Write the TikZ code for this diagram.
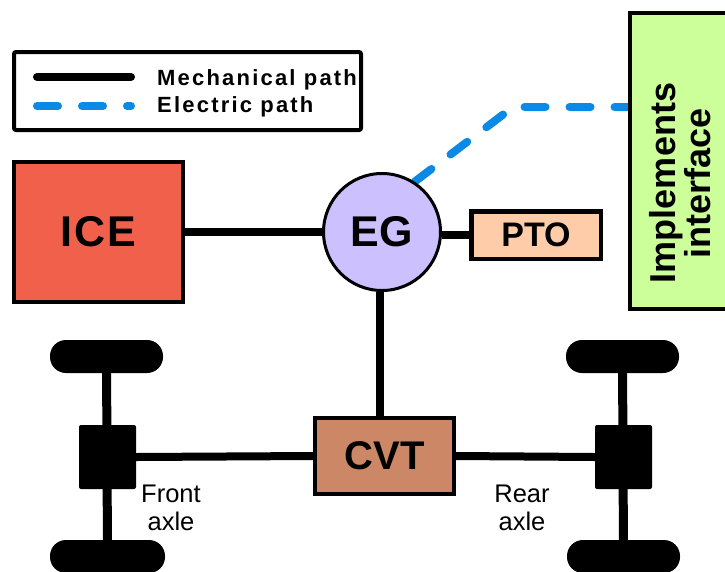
\documentclass[tikz,border=0pt]{standalone}
\usepackage{fontspec}
\setmainfont{Liberation Sans}
\usetikzlibrary{backgrounds}
\definecolor{icecol}{HTML}{F0604A}
\definecolor{egcol}{HTML}{CCC0FF}
\definecolor{ptocol}{HTML}{FFCCAA}
\definecolor{cvtcol}{HTML}{CC8866}
\definecolor{implcol}{HTML}{CCFF99}
\definecolor{elecblue}{HTML}{0A8AE6}
\begin{document}
\begin{tikzpicture}[x=1pt,y=-1pt,
  mech/.style={line width=8pt},
  axleline/.style={line width=9pt},
  elec/.style={line width=8pt, color=elecblue, line cap=round, dash pattern=on 21pt off 24pt},
  blk/.style={draw, line width=4pt, inner sep=0pt, font=\bfseries},
  wheel/.style={fill=black, inner sep=0pt, minimum width=113pt, minimum height=33pt, rounded corners=16pt},
  axbox/.style={fill=black, inner sep=0pt, minimum width=57pt, minimum height=64pt, rounded corners=2pt},
  legtext/.style={anchor=base west, inner sep=0pt, font=\fontsize{22}{22}\selectfont\bfseries\addfontfeature{LetterSpace=10}},
  axtext/.style={align=center, inner sep=0pt, font=\fontsize{25.5}{28}\selectfont}
]
\useasboundingbox (0,0) rectangle (725,571);

% legend
\node[draw, line width=4pt, minimum width=347pt, minimum height=78pt, inner sep=0pt, rounded corners=2pt] (legend) at (187.5,91) {};
\coordinate (m1) at (37,77);
\coordinate (m2) at (131,77);
\coordinate (e1) at (37,106);
\coordinate (e2) at (131,106);
\draw[mech, line cap=round] (m1) -- (m2);
\draw[elec] (e1) -- (e2);
\node[legtext] (mtext) at (157,85) {Mechanical path};
\node[legtext] (etext) at (157,112) {Electric path};

% main blocks
\node[blk, fill=icecol, minimum width=169pt, minimum height=140pt, font=\fontsize{43}{43}\selectfont\bfseries\addfontfeature{LetterSpace=4}] (ICE) at (98.5,232) {ICE};
\node[blk, circle, fill=egcol, line width=3pt, minimum size=117pt, font=\fontsize{43}{43}\selectfont\bfseries] (EG) at (382,232) {EG};
\node[blk, fill=ptocol, line width=4.5pt, minimum width=129.5pt, minimum height=47.5pt, font=\fontsize{34}{34}\selectfont\bfseries] (PTO) at (536,235) {PTO};
\node[blk, fill=cvtcol, minimum width=139pt, minimum height=76pt, font=\fontsize{40}{40}\selectfont\bfseries] (CVT) at (384.5,456) {CVT};
\node[blk, fill=implcol, minimum width=128pt, minimum height=296pt] (impl) at (694,161) {};
\node[rotate=90, align=center, inner sep=0pt, font=\fontsize{36}{35}\selectfont\bfseries] (impltext) at (680,183) {Implements\\interface};

% axles
\node[wheel] (fwT) at (106.5,356.5) {};
\node[wheel, minimum width=115pt] (fwB) at (107.5,556.5) {};
\node[axbox] (fbox) at (107.5,457) {};
\node[wheel] (rwT) at (622.5,356.5) {};
\node[wheel] (rwB) at (623.5,556.5) {};
\node[axbox] (rbox) at (623.5,457) {};
\node[axtext] (ftext) at (171,508) {Front\\axle};
\node[axtext] (rtext) at (522,508) {Rear\\axle};

\coordinate (corner) at (513,107);

\begin{scope}[on background layer]
  \draw[mech] (ICE.east) -- (EG.west);
  \draw[mech] (PTO.west) -- (PTO.west -| EG.east);
  \draw[mech] ([xshift=-2pt]EG.south) -- ([xshift=-2pt]EG.south |- CVT.north);
  \draw[mech] (fbox.east) -- (CVT.west);
  \draw[mech] (CVT.east) -- (rbox.west);
  \draw[axleline] (fwT.center) -- (fwB.center);
  \draw[axleline] (rwT.center) -- (rwB.center);
  \draw[elec] (EG.57) -- (corner) -- (corner -| impl.west);
\end{scope}
\end{tikzpicture}
\end{document}
